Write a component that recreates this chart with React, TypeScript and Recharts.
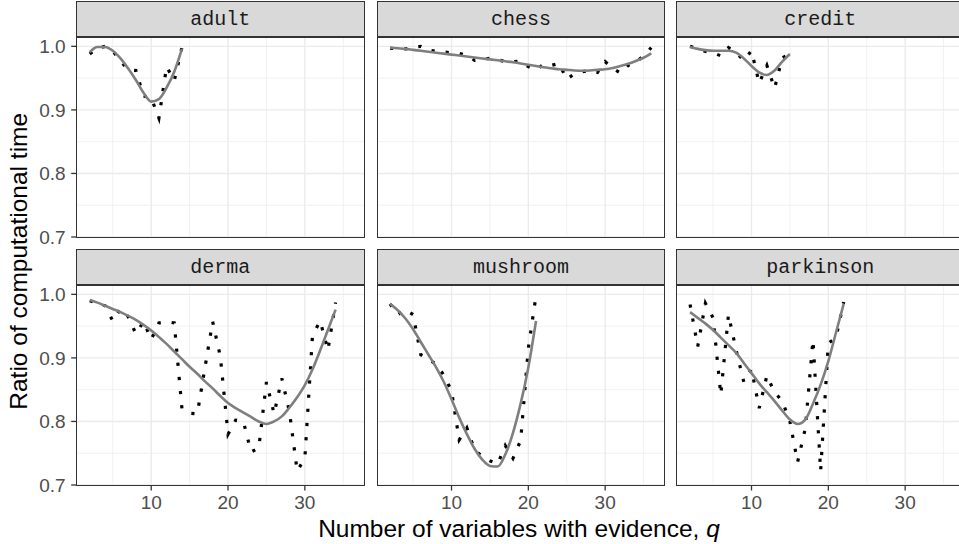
import { LineChart, Line, XAxis, YAxis, CartesianGrid } from 'recharts';

// number of variables with evidence (shared x steps, each panel uses the first n)
const qSteps = [
  2, 3, 4, 5, 6, 7, 8, 9, 10, 11, 12, 13, 14, 15, 16, 17, 18, 19, 20, 21, 22, 23, 24, 25, 26, 27, 28, 29,
  30, 31, 32, 33, 34, 35, 36,
];

const xTicks = [10, 20, 30];
const xMinor = [5, 15, 25, 35];
const yTicks = [0.7, 0.8, 0.9, 1.0];
const yMinor = [0.75, 0.85, 0.95];

// observed ratio (dotted) and loess fit (grey) per data set
const adultRatio = [0.988, 0.997, 1.0, 0.993, 0.977, 0.963, 0.962, 0.922, 0.919, 0.887, 0.968, 0.946, 0.998];
const adultSmooth = [0.991, 0.999, 0.999, 0.993, 0.981, 0.965, 0.947, 0.927, 0.913, 0.917, 0.935, 0.96, 0.996];

const chessRatio = [
  0.997, 0.996, 0.996, 0.998, 1.0, 0.994, 0.992, 0.991, 0.99, 0.989, 0.986, 0.978, 0.98, 0.981, 0.979, 0.976,
  0.976, 0.977, 0.968, 0.963, 0.972, 0.97, 0.973, 0.948, 0.957, 0.96, 0.962, 0.959, 0.976, 0.965, 0.958, 0.97,
  0.975, 0.985, 0.998,
];
const chessSmooth = [
  0.998, 0.997, 0.996, 0.9945, 0.993, 0.9915, 0.99, 0.9885, 0.987, 0.9855, 0.984, 0.9825, 0.981, 0.9795, 0.978,
  0.9765, 0.975, 0.973, 0.971, 0.969, 0.967, 0.9655, 0.964, 0.963, 0.962, 0.9615, 0.962, 0.963, 0.964, 0.966,
  0.969, 0.9725, 0.977, 0.982, 0.989,
];

const creditRatio = [1.0, 0.996, 0.992, 0.99, 0.985, 0.998, 0.99, 0.978, 0.993, 0.942, 0.97, 0.934, 0.982, 0.988];
const creditSmooth = [0.999, 0.996, 0.994, 0.993, 0.993, 0.993, 0.99, 0.981, 0.969, 0.959, 0.955, 0.962, 0.976, 0.988];

const dermaRatio = [
  0.99, 0.986, 0.982, 0.958, 0.977, 0.965, 0.938, 0.957, 0.929, 0.955, 0.957, 0.955, 0.82, 0.813, 0.812, 0.885,
  0.957, 0.902, 0.78, 0.802, 0.8, 0.752, 0.758, 0.862, 0.812, 0.868, 0.815, 0.722, 0.742, 0.936, 0.958, 0.912,
  0.987,
];
const dermaSmooth = [
  0.991, 0.987, 0.982, 0.977, 0.972, 0.966, 0.96, 0.952, 0.943, 0.933, 0.922, 0.91, 0.898, 0.886, 0.875, 0.863,
  0.852, 0.84, 0.829, 0.821, 0.814, 0.807, 0.8, 0.796, 0.8, 0.808, 0.822, 0.838, 0.857, 0.882, 0.912, 0.944,
  0.976,
];

const mushroomRatio = [
  0.985, 0.968, 0.976, 0.968, 0.905, 0.898, 0.89, 0.873, 0.848, 0.771, 0.79, 0.755, 0.745, 0.738, 0.733, 0.762,
  0.742, 0.77, 0.915, 0.998,
];
const mushroomSmooth = [
  0.985, 0.975, 0.962, 0.945, 0.925, 0.905, 0.885, 0.862, 0.835, 0.806, 0.78, 0.757, 0.74, 0.73, 0.729, 0.748,
  0.782, 0.828, 0.885, 0.958,
];

const parkinsonRatio = [
  0.984, 0.918, 0.986, 0.963, 0.842, 0.968, 0.912, 0.862, 0.882, 0.821, 0.872, 0.846, 0.832, 0.8, 0.736, 0.789,
  0.928, 0.722, 0.923, 0.932, 0.988,
];
const parkinsonSmooth = [
  0.972, 0.963, 0.954, 0.944, 0.932, 0.92, 0.908, 0.892, 0.876, 0.86, 0.846, 0.832, 0.817, 0.803, 0.796, 0.803,
  0.828, 0.858, 0.895, 0.94, 0.985,
];

const panels = [
  { name: 'adult', ratio: adultRatio, smooth: adultSmooth },
  { name: 'chess', ratio: chessRatio, smooth: chessSmooth },
  { name: 'credit', ratio: creditRatio, smooth: creditSmooth },
  { name: 'derma', ratio: dermaRatio, smooth: dermaSmooth },
  { name: 'mushroom', ratio: mushroomRatio, smooth: mushroomSmooth },
  { name: 'parkinson', ratio: parkinsonRatio, smooth: parkinsonSmooth },
];

// layout of the facet grid (page pixels)
const COL_X = [76.7, 377.3, 676.7];
const PANEL_W = 287.3;
const STRIP_TOP = [1.3, 249.3];
const STRIP_H = 36;
const PANEL_TOP = [37.3, 285.3];
const PANEL_H = 200;
const X_AXIS_H = 45;

const SANS = '"Liberation Sans", Arial, sans-serif';
const MONO = '"Liberation Mono", "Courier New", monospace';
const tickStyle = { fill: '#4D4D4D', fontSize: 19, fontFamily: SANS };

function Facet({ index }: { index: number }) {
  const p = panels[index];
  const col = index % 3;
  const row = Math.floor(index / 3);
  const showY = col === 0;
  const showX = row === 1;

  const data = p.ratio.map((r, i) => ({ q: qSteps[i], ratio: r, smooth: p.smooth[i] }));

  const chartLeft = showY ? 0 : COL_X[col];
  const chartW = showY ? COL_X[0] + PANEL_W : PANEL_W;
  // top row gets a little room below so the 0.7 label is not clipped
  const bottomPad = showX ? 0 : 14;
  const chartH = PANEL_H + (showX ? X_AXIS_H : bottomPad);

  return (
    <>
      <div
        style={{
          position: 'absolute',
          left: COL_X[col] - 0.7,
          top: STRIP_TOP[row],
          width: PANEL_W + 1.4,
          height: STRIP_H,
          boxSizing: 'border-box',
          background: '#D9D9D9',
          border: '1.4px solid #333333',
          fontFamily: MONO,
          fontSize: 20,
          color: '#1A1A1A',
          display: 'flex',
          alignItems: 'center',
          justifyContent: 'center',
        }}
      >
        {p.name}
      </div>
      <div style={{ position: 'absolute', left: chartLeft, top: PANEL_TOP[row] }}>
        <LineChart
          width={chartW}
          height={chartH}
          data={data}
          margin={{ top: 0, right: 0, bottom: bottomPad, left: 0 }}
        >
          <CartesianGrid stroke="#EBEBEB" strokeWidth={0.7} horizontalValues={yMinor} verticalValues={xMinor} />
          <CartesianGrid stroke="#EBEBEB" strokeWidth={1.4} horizontalValues={yTicks} verticalValues={xTicks} />
          <XAxis
            dataKey="q"
            type="number"
            domain={[0.3, 37.7]}
            ticks={xTicks}
            allowDataOverflow
            hide={!showX}
            height={X_AXIS_H}
            axisLine={false}
            tickLine={{ stroke: '#333333', strokeWidth: 1.3 }}
            tickSize={5.5}
            tickMargin={5.5}
            tick={tickStyle}
            interval={0}
          />
          <YAxis
            type="number"
            domain={[0.7, 1.0147]}
            ticks={yTicks}
            allowDataOverflow
            hide={!showY}
            width={COL_X[0]}
            axisLine={false}
            tickLine={{ stroke: '#333333', strokeWidth: 1.3 }}
            tickSize={5.5}
            tickMargin={5.5}
            tick={tickStyle}
            tickFormatter={(v: number) => v.toFixed(1)}
            interval={0}
          />
          <Line
            type="linear"
            dataKey="ratio"
            stroke="#000000"
            strokeWidth={3.2}
            strokeDasharray="3.2 11"
            dot={false}
            activeDot={false}
            isAnimationActive={false}
          />
          <Line
            type="monotone"
            dataKey="smooth"
            stroke="#7F7F7F"
            strokeWidth={2.6}
            dot={false}
            activeDot={false}
            isAnimationActive={false}
          />
        </LineChart>
      </div>
      <div
        style={{
          position: 'absolute',
          left: COL_X[col] - 0.7,
          top: PANEL_TOP[row] - 0.7,
          width: PANEL_W + 1.4,
          height: PANEL_H + 1.4,
          boxSizing: 'border-box',
          border: '1.4px solid #333333',
          pointerEvents: 'none',
        }}
      />
    </>
  );
}

export default function App() {
  return (
    <div
      style={{
        position: 'fixed',
        left: 0,
        top: 0,
        width: 959,
        height: 544,
        overflow: 'hidden',
        background: '#FFFFFF',
      }}
    >
      {panels.map((p, i) => (
        <Facet key={p.name} index={i} />
      ))}
      <svg width={959} height={544} style={{ position: 'absolute', left: 0, top: 0, pointerEvents: 'none' }}>
        <text x={519} y={536.7} textAnchor="middle" fontFamily={SANS} fontSize={24.5} fill="#000000">
          Number of variables with evidence, <tspan fontStyle="italic">q</tspan>
        </text>
        <text
          transform="translate(27, 261.3) rotate(-90)"
          textAnchor="middle"
          fontFamily={SANS}
          fontSize={24.5}
          fill="#000000"
        >
          Ratio of computational time
        </text>
      </svg>
    </div>
  );
}
